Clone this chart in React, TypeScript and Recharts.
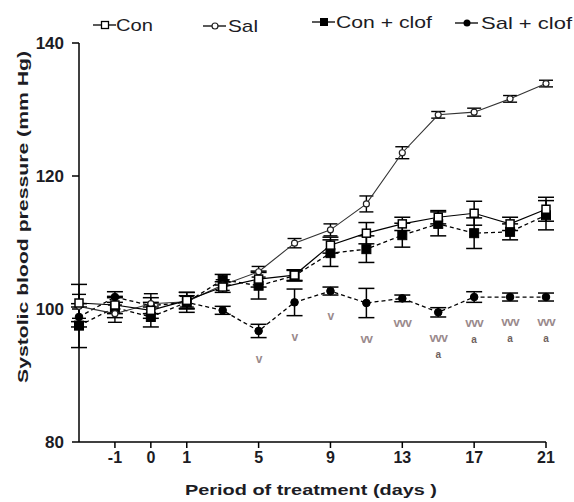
import React from "react";
import { CartesianGrid, ErrorBar, LabelList, Line, LineChart, XAxis, YAxis } from "recharts";

const days = ["-2", "-1", "0", "1", "3", "5", "7", "9", "11", "13", "15", "17", "19", "21"];
const xTicks = [1, 2, 3, 5, 7, 9, 11, 13];
const yTicks = [80, 100, 120, 140];

const con = [100.9, 100.6, 99.8, 101.3, 103.3, 104.5, 105.1, 109.6, 111.4, 112.8, 113.8, 114.4, 112.8, 115.0];
const conErr = [2.8, 1.3, 1.2, 1.2, 0.8, 1.2, 0.8, 1.2, 1.6, 1.0, 1.0, 1.8, 1.0, 1.8];
const sal = [100.4, 99.3, 100.8, 101.1, 103.6, 105.6, 109.9, 111.9, 115.8, 123.5, 129.2, 129.6, 131.6, 133.9];
const salErr = [1.8, 1.3, 1.5, 0.8, 0.8, 0.8, 0.7, 0.9, 1.2, 0.9, 0.5, 0.6, 0.5, 0.5];
const conClof = [97.5, 100.2, 98.8, 101.0, 104.4, 103.5, 105.0, 108.4, 109.0, 111.1, 112.8, 111.4, 111.6, 114.1];
const conClofErr = [3.3, 1.5, 1.5, 1.5, 0.8, 2.0, 0.8, 2.0, 2.0, 1.8, 1.8, 2.3, 1.2, 2.2];
const salClof = [98.8, 101.8, 100.5, 101.0, 99.8, 96.7, 101.0, 102.7, 100.9, 101.6, 99.5, 101.8, 101.8, 101.8];
const salClofErr = [1.5, 0.8, 1.2, 1.0, 0.6, 1.0, 2.0, 0.6, 2.2, 0.5, 0.7, 0.8, 0.6, 0.6];

// significance marks drawn under the Sal + clof points
const sigV = ["", "", "", "", "", "v", "v", "v", "vv", "vvv", "vvv", "vvv", "vvv", "vvv"];
const sigA = ["", "", "", "", "", "", "", "", "", "", "a", "a", "a", "a"];

const data = days.map((d, i) => ({
  i,
  day: d,
  con: con[i],
  conErr: conErr[i],
  sal: sal[i],
  salErr: salErr[i],
  conClof: conClof[i],
  conClofErr: conClofErr[i],
  salClof: salClof[i],
  salClofErr: salClofErr[i],
  sigV: sigV[i],
  sigA: sigA[i],
}));

const FONT = "'Liberation Sans', Arial, sans-serif";
const INK = "#1c1c24";

const openSquare = (p: any) => (
  <rect key={`cs${p.index}`} x={p.cx - 4} y={p.cy - 4} width={8} height={8} fill="#fff" stroke="#000" strokeWidth={1.5} />
);
const filledSquare = (p: any) => (
  <rect key={`fs${p.index}`} x={p.cx - 4.5} y={p.cy - 4.5} width={9} height={9} fill="#000" stroke="#000" />
);
const openCircle = (p: any) => (
  <circle key={`oc${p.index}`} cx={p.cx} cy={p.cy} r={3} fill="#fff" stroke="#222" strokeWidth={1.2} />
);
const filledCircle = (p: any) => (
  <circle key={`fc${p.index}`} cx={p.cx} cy={p.cy} r={3.8} fill="#000" stroke="#000" />
);

const SigLabel = (props: any) => {
  const x = props.x ?? props.viewBox?.x;
  const y = props.y ?? props.viewBox?.y;
  const idx = props.index;
  if (x == null || y == null) return null;
  const v = sigV[idx];
  const a = sigA[idx];
  if (!v) return null;
  return (
    <g>
      <text x={x} y={y + 25} textAnchor="middle" fontSize={12} fontWeight="bold" fontFamily={FONT} fill="#9a8a8c" letterSpacing={-0.8}>
        {v}
      </text>
      {a && (
        <text x={x} y={y + 41} textAnchor="middle" fontSize={10} fontWeight="bold" fontFamily={FONT} fill="#6f625e">
          {a}
        </text>
      )}
    </g>
  );
};

const legendItems = [
  { name: "Con", icon: "openSquare", ix: 93, tx: 116, tw: 37, y: 25 },
  { name: "Sal", icon: "openCircle", ix: 203, tx: 228, tw: 30, y: 26 },
  { name: "Con + clof", icon: "filledSquare", ix: 312, tx: 336, tw: 96, y: 22 },
  { name: "Sal + clof", icon: "filledCircle", ix: 455, tx: 481, tw: 91, y: 23 },
];

function LegendRow() {
  return (
    <svg width={574} height={40} style={{ position: "absolute", left: 0, top: 0, zIndex: 2 }}>
      {legendItems.map((it) => {
        const cx = it.ix + 12;
        return (
          <g key={it.name}>
            <line x1={it.ix} x2={it.ix + 23} y1={it.y} y2={it.y} stroke="#000" strokeWidth={1.3} />
            {it.icon === "openSquare" && <rect x={cx - 3.5} y={it.y - 3.5} width={7} height={7} fill="#fff" stroke="#000" strokeWidth={1.3} />}
            {it.icon === "openCircle" && <circle cx={cx} cy={it.y} r={3} fill="#fff" stroke="#222" strokeWidth={1.2} />}
            {it.icon === "filledSquare" && <rect x={cx - 4} y={it.y - 4} width={8} height={8} fill="#000" />}
            {it.icon === "filledCircle" && <circle cx={cx} cy={it.y} r={3.5} fill="#000" />}
            <text x={it.tx} y={it.y + 6} fontSize={17} fontFamily={FONT} fill={INK} textLength={it.tw} lengthAdjust="spacingAndGlyphs">
              {it.name}
            </text>
          </g>
        );
      })}
    </svg>
  );
}

const YLabel = () => (
  <text
    x={22}
    y={217}
    transform="rotate(-90, 22, 217)"
    textAnchor="middle"
    dominantBaseline="central"
    fontSize={15}
    fontWeight="bold"
    fontFamily={FONT}
    fill={INK}
    textLength={332}
    lengthAdjust="spacingAndGlyphs"
  >
    Systolic blood pressure (mm Hg)
  </text>
);

const XLabel = () => (
  <text
    x={311}
    y={495}
    textAnchor="middle"
    fontSize={15}
    fontWeight="bold"
    fontFamily={FONT}
    fill={INK}
    textLength={252}
    lengthAdjust="spacingAndGlyphs"
  >
    Period of treatment (days  )
  </text>
);

export default function App() {
  return (
    <div style={{ position: "absolute", left: 0, top: 0, width: 574, height: 502, background: "#fff", overflow: "hidden" }}>
      <LegendRow />
      <LineChart width={574} height={502} data={data} margin={{ top: 43, right: 28, bottom: 0, left: 0 }}>
        <CartesianGrid stroke="none" />
        <XAxis
          type="number"
          dataKey="i"
          domain={[0, 13]}
          ticks={xTicks}
          tickFormatter={(v: number) => days[v]}
          height={60}
          stroke="#000"
          strokeWidth={1.5}
          tickSize={6}
          tickMargin={4}
          tick={{ fontSize: 16, fontWeight: "bold", fill: INK, fontFamily: FONT }}
          label={<XLabel />}
        />
        <YAxis
          domain={[80, 140]}
          ticks={yTicks}
          width={79}
          stroke="#000"
          strokeWidth={1.5}
          tickSize={7}
          tickMargin={8}
          tick={{ fontSize: 17, fontWeight: "bold", fill: INK, fontFamily: FONT }}
          label={<YLabel />}
        />
        <Line dataKey="salClof" stroke="#000" strokeWidth={1.3} strokeDasharray="4 3" dot={filledCircle} activeDot={false} isAnimationActive={false}>
          <ErrorBar dataKey="salClofErr" width={8} stroke="#000" strokeWidth={1.5} direction="y" />
        </Line>
        <Line dataKey="conClof" stroke="#000" strokeWidth={1.3} strokeDasharray="4 3" dot={filledSquare} activeDot={false} isAnimationActive={false}>
          <ErrorBar dataKey="conClofErr" width={8} stroke="#000" strokeWidth={1.5} direction="y" />
        </Line>
        <Line dataKey="sal" stroke="#333" strokeWidth={1.1} dot={openCircle} activeDot={false} isAnimationActive={false}>
          <ErrorBar dataKey="salErr" width={7} stroke="#000" strokeWidth={1.4} direction="y" />
        </Line>
        <Line dataKey="con" stroke="#000" strokeWidth={1.2} dot={openSquare} activeDot={false} isAnimationActive={false}>
          <ErrorBar dataKey="conErr" width={8} stroke="#000" strokeWidth={1.5} direction="y" />
        </Line>
        <Line
          dataKey={(d: any) => d.salClof - d.salClofErr}
          stroke="none"
          dot={false}
          activeDot={false}
          legendType="none"
          isAnimationActive={false}
        >
          <LabelList dataKey="sigV" content={<SigLabel />} />
        </Line>
      </LineChart>
    </div>
  );
}
